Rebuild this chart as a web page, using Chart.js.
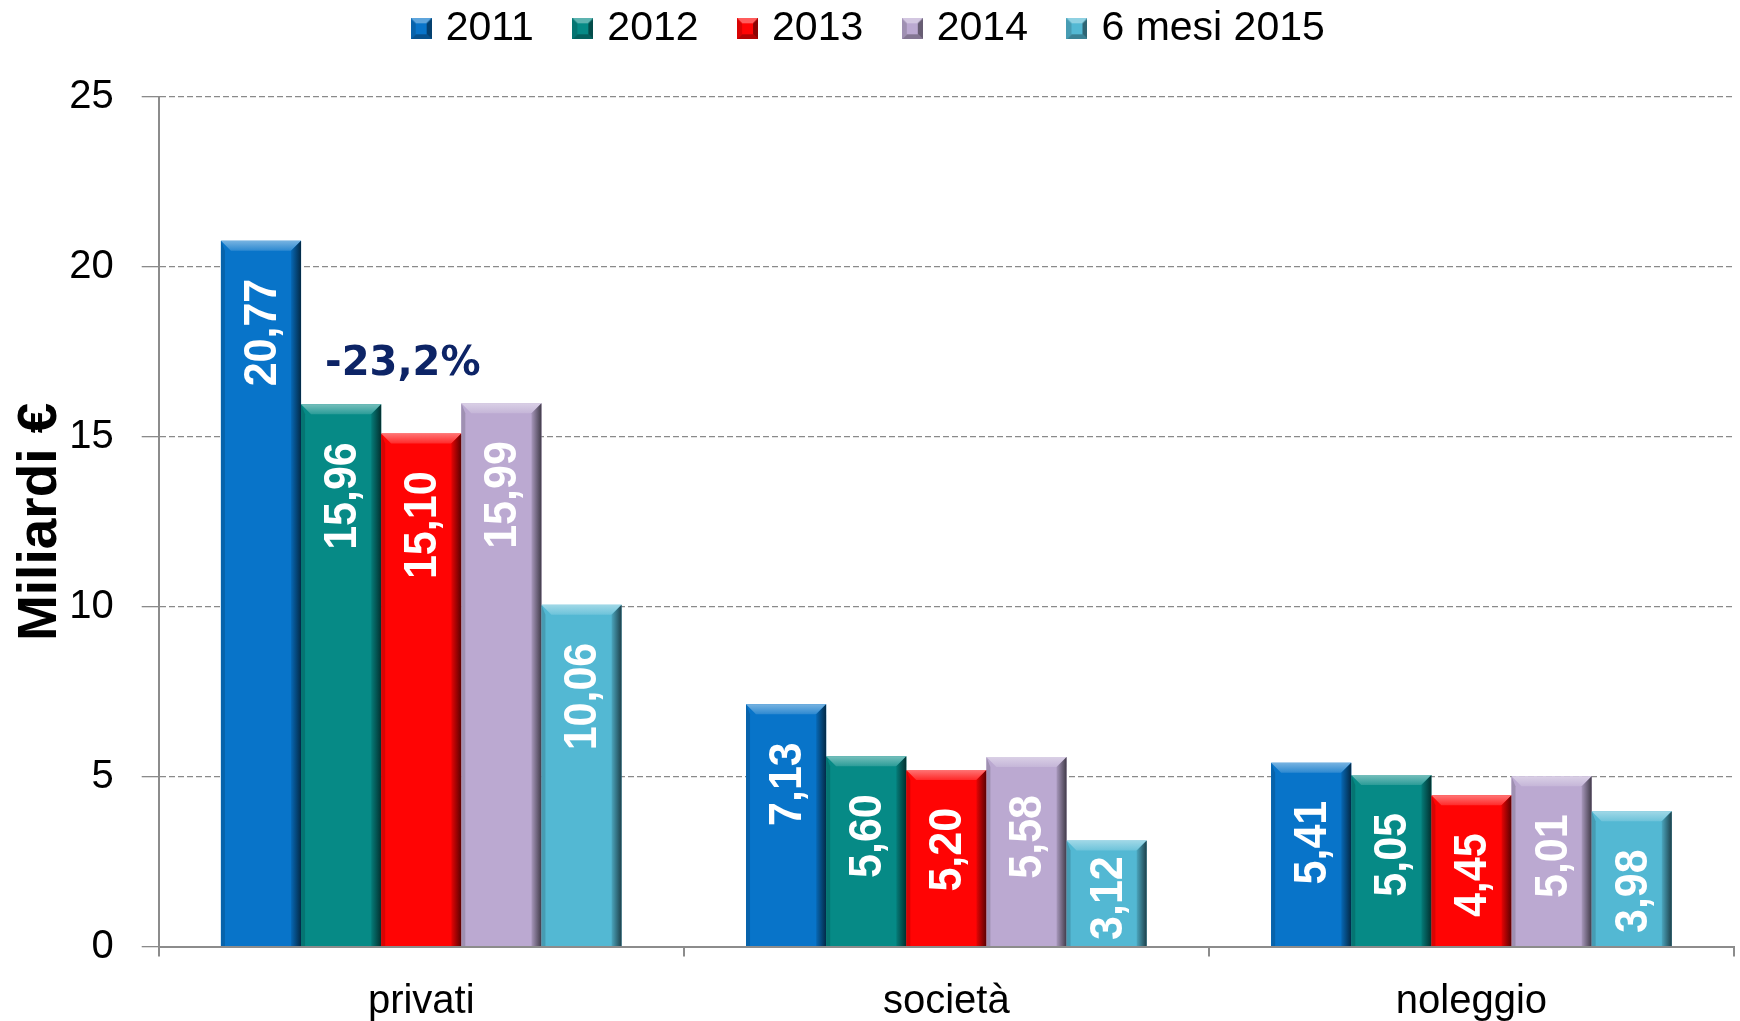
<!DOCTYPE html>
<html>
<head>
<meta charset="utf-8">
<script src="https://cdn.jsdelivr.net/npm/chart.js@4.4.1/dist/chart.umd.min.js"></script>
<style>
  html, body { margin: 0; padding: 0; background: #ffffff; }
  #wrap { width: 1740px; height: 1021px; position: relative; }
</style>
</head>
<body>
<div id="wrap"><canvas id="c" width="1740" height="1021"></canvas></div>
<script>
// ---- data ----
const categories = ['privati', 'società', 'noleggio'];
const seriesNames = ['2011', '2012', '2013', '2014', '6 mesi 2015'];
const values2011 = [20.77, 7.13, 5.41];
const values2012 = [15.96, 5.60, 5.05];
const values2013 = [15.10, 5.20, 4.45];
const values2014 = [15.99, 5.58, 5.01];
const values2015 = [10.06, 3.12, 3.98];
const yTickValues = [0, 5, 10, 15, 20, 25];
const yAxisTitle = 'Miliardi €';
const annotationText = '-23,2%';
const annotationValue = 17.14;

const seriesColors = ['#0874C9', '#068A86', '#FF0404', '#BBA9D1', '#53B8D3'];
const allValues = [values2011, values2012, values2013, values2014, values2015];

function shade(hex, amt) {
  const n = parseInt(hex.slice(1), 16);
  let r = (n >> 16) & 255, g = (n >> 8) & 255, b = n & 255;
  if (amt >= 0) { r += (255 - r) * amt; g += (255 - g) * amt; b += (255 - b) * amt; }
  else { r *= (1 + amt); g *= (1 + amt); b *= (1 + amt); }
  return 'rgb(' + Math.round(r) + ',' + Math.round(g) + ',' + Math.round(b) + ')';
}

function bevelSwatch(color) {
  const s = 21, b = 5;
  const cv = document.createElement('canvas');
  cv.width = s; cv.height = s;
  const c = cv.getContext('2d');
  c.fillStyle = color; c.fillRect(0, 0, s, s);
  const tri = (pts, fill) => { c.beginPath(); c.moveTo(pts[0], pts[1]); for (let k = 2; k < pts.length; k += 2) c.lineTo(pts[k], pts[k + 1]); c.closePath(); c.fillStyle = fill; c.fill(); };
  tri([0, 0, s, 0, s - b, b, b, b], shade(color, 0.35));
  tri([s, 0, s, s, s - b, s - b, s - b, b], shade(color, -0.45));
  tri([0, s, s, s, s - b, s - b, b, s - b], shade(color, -0.3));
  tri([0, 0, b, b, b, s - b, 0, s], shade(color, -0.15));
  return cv;
}
const swatches = seriesColors.map(bevelSwatch);

const FONT = "'Liberation Sans', Arial, sans-serif";

const bevelAndLabels = {
  id: 'bevelAndLabels',
  afterDatasetsDraw(chart) {
    const ctx = chart.ctx;
    chart.data.datasets.forEach((ds, di) => {
      const meta = chart.getDatasetMeta(di);
      const base = seriesColors[di];
      meta.data.forEach((bar, i) => {
        const left = bar.x - bar.width / 2, right = bar.x + bar.width / 2;
        const top = bar.y, bottom = bar.base;
        const b = 10;
        ctx.save();
        // top bevel
        ctx.beginPath();
        ctx.moveTo(left, top); ctx.lineTo(right, top);
        ctx.lineTo(right - b, top + b); ctx.lineTo(left + b, top + b); ctx.closePath();
        const tg = ctx.createLinearGradient(0, top, 0, top + b);
        tg.addColorStop(0, shade(base, 0.45)); tg.addColorStop(1, shade(base, 0.15));
        ctx.fillStyle = tg; ctx.fill();
        // right dark edge
        ctx.beginPath();
        ctx.moveTo(right, top); ctx.lineTo(right, bottom);
        ctx.lineTo(right - b, bottom); ctx.lineTo(right - b, top + b); ctx.closePath();
        const rg = ctx.createLinearGradient(right - b, 0, right, 0);
        rg.addColorStop(0, shade(base, -0.1)); rg.addColorStop(1, shade(base, -0.65));
        ctx.fillStyle = rg; ctx.fill();
        // left light edge
        ctx.beginPath();
        ctx.moveTo(left, top); ctx.lineTo(left + 4, top + b);
        ctx.lineTo(left + 4, bottom); ctx.lineTo(left, bottom); ctx.closePath();
        ctx.fillStyle = shade(base, -0.15); ctx.fill();
        // value label
        const v = ds.data[i];
        const txt = v.toFixed(2).replace('.', ',');
        ctx.font = "bold 43px " + FONT;
        const len = ctx.measureText(txt).width;
        let tTop = top + 38;
        if (tTop + len > bottom - 6) tTop = bottom - 6 - len;
        ctx.translate(bar.x, tTop);
        ctx.rotate(-Math.PI / 2);
        ctx.scale(1, 1.08);
        ctx.fillStyle = '#FFFFFF';
        ctx.textAlign = 'right';
        ctx.textBaseline = 'middle';
        ctx.fillText(txt, 0, 2);
        ctx.restore();
      });
    });
    // annotation
    const m1 = chart.getDatasetMeta(1);
    const ys = chart.scales.y;
    ctx.save();
    ctx.font = "bold 40px 'DejaVu Sans', Verdana, sans-serif";
    ctx.fillStyle = '#0D2466';
    ctx.textAlign = 'left';
    ctx.textBaseline = 'middle';
    ctx.fillText(annotationText, m1.data[0].x - 16, ys.getPixelForValue(annotationValue));
    ctx.restore();
  }
};

new Chart(document.getElementById('c'), {
  type: 'bar',
  data: {
    labels: categories,
    datasets: seriesNames.map((name, i) => ({
      label: name,
      data: allValues[i],
      backgroundColor: seriesColors[i],
      borderWidth: 0,
      barPercentage: 1.0,
      categoryPercentage: 0.763
    }))
  },
  options: {
    responsive: false,
    animation: false,
    layout: { padding: { top: -36.7, left: 8, right: 6, bottom: 0 } },
    plugins: {
      legend: {
        position: 'top',
        labels: {
          usePointStyle: true,
          pointStyleWidth: 8,
          boxWidth: 21, boxHeight: 21, padding: 45,
          color: '#000', font: { family: FONT, size: 41 },
          generateLabels(chart) {
            const items = Chart.defaults.plugins.legend.labels.generateLabels(chart);
            items.forEach(it => { it.pointStyle = swatches[it.datasetIndex]; });
            return items;
          }
        }
      },
      title: { display: true, text: '', weight: 500, padding: 0, font: { size: 37.7, lineHeight: 1 } },
      tooltip: { enabled: false }
    },
    scales: {
      x: {
        grid: { offset: true, drawOnChartArea: false, drawTicks: true, tickLength: 10, color: '#8c8c8c', lineWidth: 2 },
        border: { color: '#8c8c8c', width: 2 },
        ticks: { color: '#000', font: { family: FONT, size: 40 }, padding: 21 },
        afterFit(s) { s.height = 74.4; }
      },
      y: {
        min: 0, max: 25,
        afterBuildTicks(s) { s.ticks = yTickValues.map(v => ({ value: v })); },
        grid: { color: '#8a8a8a', lineWidth: 1.3, tickLength: 17, tickColor: '#8a8a8a' },
        border: { color: '#8c8c8c', width: 2, dash: [6, 3] },
        ticks: { color: '#000', font: { family: FONT, size: 40 }, padding: 28 },
        title: { display: true, text: yAxisTitle, color: '#000', font: { family: FONT, size: 55, weight: 'bold', lineHeight: 1.2 }, padding: { top: 0, bottom: 0 } },
        afterFit(s) { s.width = 150.7; }
      }
    }
  },
  plugins: [bevelAndLabels]
});
</script>
</body>
</html>
